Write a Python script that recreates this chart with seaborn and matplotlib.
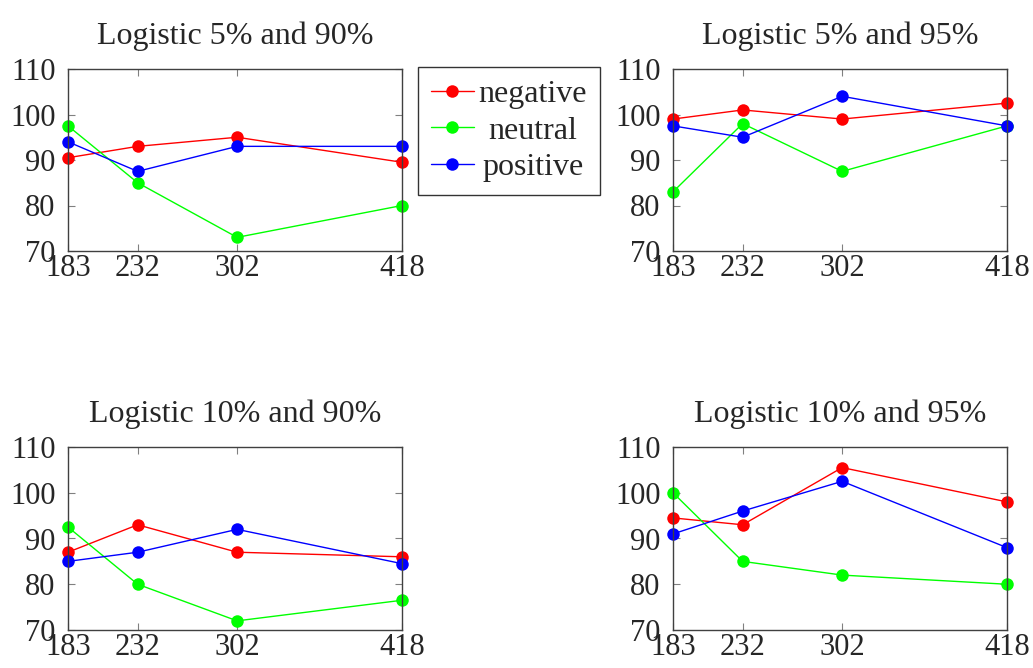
import numpy as np
import matplotlib.pyplot as plt
import seaborn as sns
import pandas as pd
from matplotlib.lines import Line2D

sizes = [183, 232, 302, 418]
sentiments = ['negative', 'neutral', 'positive']
colors = {'negative': '#ff0000', 'neutral': '#00ff00', 'positive': '#0000ff'}

titles = ['Logistic 5% and 90%', 'Logistic 5% and 95%',
          'Logistic 10% and 90%', 'Logistic 10% and 95%']

# one list per sentiment per panel
neg_5_90 = [90.5, 93, 95, 89.5]
neu_5_90 = [97.5, 85, 73, 80]
pos_5_90 = [94, 87.5, 93, 93]

neg_5_95 = [99, 101, 99, 102.5]
neu_5_95 = [83, 98, 87.5, 97.5]
pos_5_95 = [97.5, 95, 104, 97.5]

neg_10_90 = [87, 93, 87, 86]
neu_10_90 = [92.5, 80, 72, 76.5]
pos_10_90 = [85, 87, 92, 84.5]

neg_10_95 = [94.5, 93, 105.5, 98]
neu_10_95 = [100, 85, 82, 80]
pos_10_95 = [91, 96, 102.5, 88]

panels = [
    (neg_5_90, neu_5_90, pos_5_90),
    (neg_5_95, neu_5_95, pos_5_95),
    (neg_10_90, neu_10_90, pos_10_90),
    (neg_10_95, neu_10_95, pos_10_95),
]

sns.set_style('ticks')
plt.rcParams['font.family'] = ['Liberation Serif', 'DejaVu Serif']

fig = plt.figure(figsize=(10.33, 6.68), dpi=100)

W, H = 1033, 668
boxes = [(68, 69, 402, 251), (673, 69, 1007, 251),
         (68, 447, 402, 630), (673, 447, 1007, 630)]

for (l, t, r, b), title, vals in zip(boxes, titles, panels):
    ax = fig.add_axes([l / W, (H - b) / H, (r - l) / W, (b - t) / H])
    rows = []
    for s, v in zip(sentiments, vals):
        for x, y in zip(sizes, v):
            rows.append({'size': x, 'acc': y, 'sentiment': s})
    df = pd.DataFrame(rows)
    sns.lineplot(data=df, x='size', y='acc', hue='sentiment', palette=colors,
                 marker='o', markersize=9, markeredgewidth=0, linewidth=1,
                 ax=ax, legend=False, clip_on=False)
    ax.set_xlim(183, 418)
    ax.set_ylim(70, 110)
    ax.set_xticks(sizes)
    ax.set_yticks([70, 80, 90, 100, 110])
    ax.set_xlabel('')
    ax.set_ylabel('')
    ax.set_title(title, fontsize=23, pad=18)
    ax.tick_params(direction='in', length=5, color='#808080', labelsize=22,
                   top=True, right=True)
    ax.tick_params(axis='x', pad=2)
    ax.tick_params(axis='y', pad=9)
    for sp in ax.spines.values():
        sp.set_color('#404040')
        sp.set_linewidth(1)

handles = [Line2D([], [], color=colors[s], marker='o', markersize=9,
                  markeredgewidth=0, linewidth=1) for s in sentiments]
leg = fig.legend(handles, sentiments, loc='upper left',
                 bbox_to_anchor=(418 / W, (H - 67) / H), borderaxespad=0,
                 fontsize=23, frameon=True, fancybox=False, edgecolor='black',
                 handlelength=1.35, handletextpad=0.15, labelspacing=0.22,
                 borderpad=0.4)
leg.get_frame().set_linewidth(1)

# centre the legend labels like pgfplots does
fig.canvas.draw()
rend = fig.canvas.get_renderer()
widths = [t.get_window_extent(rend).width for t in leg.get_texts()]
wmax = max(widths)
for t, w in zip(leg.get_texts(), widths):
    t.set_position(((wmax - w) / 2, 0))

fig.savefig('out.png', dpi=100)
